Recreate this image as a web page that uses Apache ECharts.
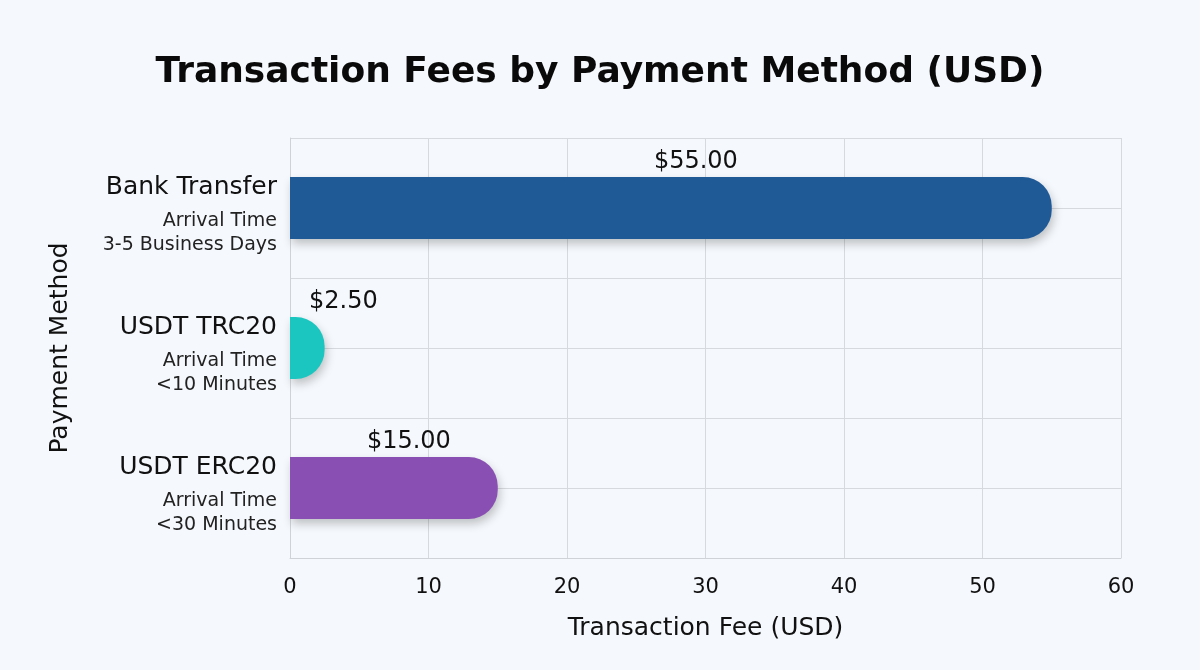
<!DOCTYPE html>
<html>
<head>
<meta charset="utf-8">
<script src="https://cdn.jsdelivr.net/npm/echarts@6/dist/echarts.min.js"></script>
<style>
html,body{margin:0;padding:0;background:#f5f8fc;}
#chart{width:1200px;height:670px;}
</style>
</head>
<body>
<div id="chart"></div>
<script>
const methods = ['Bank Transfer', 'USDT TRC20', 'USDT ERC20'];
const arrivalTimes = ['3-5 Business Days', '<10 Minutes', '<30 Minutes'];
const fees = [55, 2.5, 15];
const xTicks = [0, 10, 20, 30, 40, 50, 60];

const barColors = ['#1f5a97', '#1cc6c0', '#8a4fb2'];
const labelShift = [25, 36, 15];
const FONT = '"DejaVu Sans", sans-serif';

const chart = echarts.init(document.getElementById('chart'));
chart.setOption({
  backgroundColor: '#f5f8fc',
  textStyle: { fontFamily: FONT },
  title: {
    text: 'Transaction Fees by Payment Method (USD)',
    left: 'center',
    top: 50,
    textStyle: { fontSize: 36, fontWeight: 'bold', color: '#0a0a0a', fontFamily: FONT }
  },
  grid: { left: 290, right: 79, top: 138, bottom: 112, containLabel: false },
  xAxis: {
    type: 'value',
    min: xTicks[0],
    max: xTicks[xTicks.length - 1],
    interval: 10,
    name: 'Transaction Fee (USD)',
    nameLocation: 'middle',
    nameGap: 58,
    nameTextStyle: { fontSize: 25, color: '#111', fontFamily: FONT },
    axisLine: { show: true, lineStyle: { color: '#cfd3d8' } },
    axisTick: { show: false },
    axisLabel: { fontSize: 21, color: '#111', margin: 19, fontFamily: FONT },
    splitLine: { show: true, lineStyle: { color: '#d6d9dd', width: 1 } }
  },
  yAxis: [{
    type: 'category',
    data: methods,
    inverse: true,
    name: 'Payment Method',
    nameLocation: 'middle',
    nameGap: 217,
    nameTextStyle: { fontSize: 25, color: '#111', fontFamily: FONT },
    axisLine: { show: true, lineStyle: { color: '#cfd3d8' } },
    axisTick: { show: false },
    splitLine: { show: true, lineStyle: { color: '#d6d9dd' } },
    axisLabel: {
      margin: 13,
      align: 'right',
      padding: [7, 0, 0, 0],
      formatter: function (v, i) {
        return '{n|' + v + '}\n{s|Arrival Time}\n{s|' + arrivalTimes[i] + '}';
      },
      rich: {
        n: { fontSize: 25, color: '#111', lineHeight: 44, align: 'right', fontFamily: FONT },
        s: { fontSize: 19, color: '#222', lineHeight: 24, align: 'right', fontFamily: FONT }
      }
    }
  }, {
    type: 'value',
    min: 0, max: 6, interval: 1,
    position: 'right',
    axisLine: { show: false }, axisTick: { show: false }, axisLabel: { show: false },
    splitLine: { show: true, lineStyle: { color: '#d6d9dd' } }
  }],
  series: [{
    type: 'bar',
    yAxisIndex: 0,
    barWidth: 62,
    data: fees.map(function (v, i) {
      return {
        value: v,
        itemStyle: { color: barColors[i] },
        label: { offset: [labelShift[i], 2] }
      };
    }),
    itemStyle: {
      borderRadius: [0, 29, 29, 0],
      shadowBlur: 10,
      shadowOffsetX: 2,
      shadowOffsetY: 5,
      shadowColor: 'rgba(0,0,0,0.22)'
    },
    label: {
      show: true,
      position: 'top',
      fontSize: 24,
      color: '#111',
      fontFamily: FONT,
      formatter: function (p) { return '$' + p.value.toFixed(2); }
    }
  }]
});
</script>
</body>
</html>
